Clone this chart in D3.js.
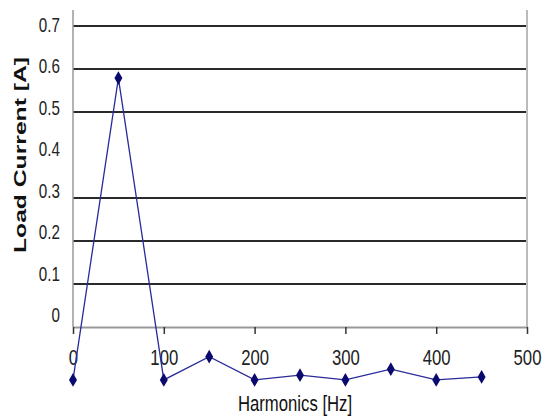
<!DOCTYPE html>
<html>
<head>
<meta charset="utf-8">
<script src="https://cdn.jsdelivr.net/npm/d3@7"></script>
<style>
  body { margin: 0; background: #fff; }
  svg { display: block; }
</style>
</head>
<body>
<div id="chart"></div>
<script>
// data
const harmonics = [0, 50, 100, 150, 200, 250, 300, 350, 400, 450];
const current = [-0.123, 0.579, -0.123, -0.069, -0.123, -0.112, -0.123, -0.098, -0.123, -0.116];
const gridValues = [0.1, 0.2, 0.3, 0.5, 0.6, 0.7];
const yTickLabels = ["0", "0.1", "0.2", "0.3", "0.4", "0.5", "0.6", "0.7"];
const xTickValues = [0, 100, 200, 300, 400, 500];

const WIDTH = 543;
const HEIGHT = 416;
const LEFT = 73;
const RIGHT = 527;
const TOP = 10;
const ZERO_Y = 327;
const SQUEEZE = 0.76; // the original font is a narrow one

const svg = d3.select("#chart")
    .append("svg")
    .attr("width", WIDTH)
    .attr("height", HEIGHT);

const xScale = d3.scaleLinear()
    .domain([0, 500])
    .range([LEFT, RIGHT]);

const yScale = d3.scaleLinear()
    .domain([0, 0.7])
    .range([ZERO_Y, 26]);

// tick labels sit a bit off the grid in the original
const yLabelScale = d3.scaleLinear()
    .domain([0, 0.7])
    .range([322, 32]);

const font = "'Liberation Sans', Arial, sans-serif";

// gridlines
svg.append("g")
    .selectAll("line")
    .data(gridValues)
    .join("line")
    .attr("x1", LEFT)
    .attr("x2", RIGHT)
    .attr("y1", d => yScale(d))
    .attr("y2", d => yScale(d))
    .attr("stroke", "#2a2a2a")
    .attr("stroke-width", 2);

// left and right frame lines
svg.append("line")
    .attr("x1", LEFT).attr("x2", LEFT)
    .attr("y1", TOP).attr("y2", ZERO_Y)
    .attr("stroke", "#999").attr("stroke-width", 1.5);

svg.append("line")
    .attr("x1", RIGHT).attr("x2", RIGHT)
    .attr("y1", TOP).attr("y2", ZERO_Y)
    .attr("stroke", "#bbb").attr("stroke-width", 2);

// x axis
const xAxis = d3.axisBottom(xScale)
    .tickValues(xTickValues)
    .tickSize(7)
    .tickSizeOuter(0)
    .tickFormat(d3.format("d"));

const gx = svg.append("g")
    .attr("transform", `translate(0, ${ZERO_Y})`)
    .call(xAxis);

gx.select(".domain").attr("stroke", "#999").attr("stroke-width", 2);
gx.selectAll(".tick line").attr("stroke", "#333").attr("stroke-width", 1.5);
gx.selectAll(".tick text")
    .attr("y", 22)
    .attr("dy", "0.72em")
    .attr("transform", `scale(${SQUEEZE}, 1)`)
    .attr("fill", "#222")
    .style("font-family", font)
    .style("font-size", "22px");

// y labels
svg.append("g")
    .selectAll("text")
    .data(yTickLabels)
    .join("text")
    .attr("transform", d => `translate(60, ${yLabelScale(+d)}) scale(${SQUEEZE}, 1)`)
    .attr("text-anchor", "end")
    .attr("fill", "#222")
    .style("font-family", font)
    .style("font-size", "20px")
    .text(d => d);

// series
const line = d3.line()
    .x((d, i) => xScale(harmonics[i]))
    .y(d => yScale(d));

svg.append("path")
    .datum(current)
    .attr("fill", "none")
    .attr("stroke", "#2a2a9a")
    .attr("stroke-width", 1.3)
    .attr("d", line);

svg.append("g")
    .selectAll("path")
    .data(current)
    .join("path")
    .attr("transform", (d, i) => `translate(${xScale(harmonics[i])}, ${yScale(d)})`)
    .attr("d", d3.symbol(d3.symbolDiamond, 55)())
    .attr("fill", "#0a0a6e");

// axis titles
svg.append("text")
    .attr("transform", "translate(26, 155) rotate(-90)")
    .attr("text-anchor", "middle")
    .attr("textLength", 196)
    .attr("lengthAdjust", "spacingAndGlyphs")
    .attr("fill", "#111")
    .style("font-family", font)
    .style("font-weight", "bold")
    .style("font-size", "16px")
    .text("Load Current [A]");

svg.append("text")
    .attr("transform", `translate(295, 411) scale(${SQUEEZE}, 1)`)
    .attr("text-anchor", "middle")
    .attr("fill", "#111")
    .style("font-family", font)
    .style("font-size", "22px")
    .text("Harmonics [Hz]");
</script>
</body>
</html>
